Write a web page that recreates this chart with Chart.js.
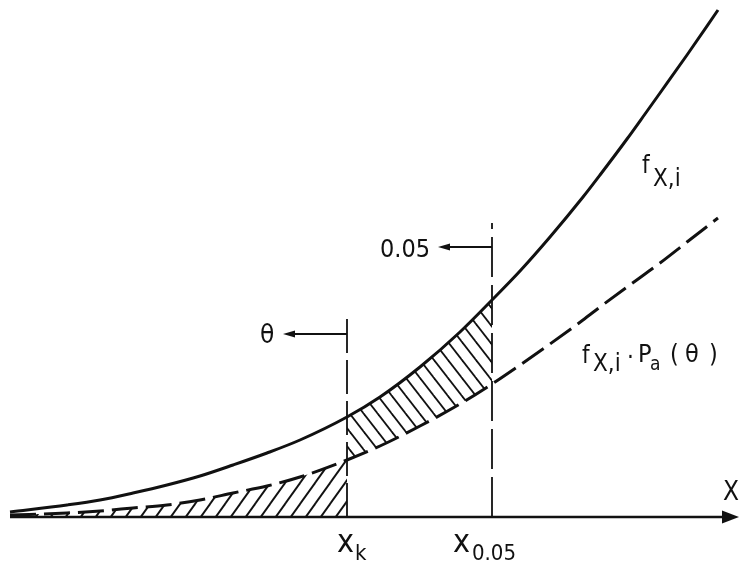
<!DOCTYPE html>
<html><head><meta charset="utf-8">
<script src="https://cdn.jsdelivr.net/npm/chart.js@4"></script>
<style>html,body{margin:0;padding:0;background:#fff}canvas{display:block}</style>
</head><body>
<canvas id="c" width="739" height="563"></canvas>
<script>
// ---- data (arbitrary schematic units) ----
const xs     = [10, 67, 100, 133, 167, 200, 233, 267, 300, 347, 380, 420, 460, 492, 520, 550, 583, 600, 627, 645, 660, 687, 718];
const fXi    = [5, 12, 17, 24, 32, 41, 52, 64, 77, 100, 120, 150, 185, 217, 246, 280, 320, 342, 378, 403, 424, 462, 507];
const fXiPa  = [2, 4, 6, 9, 12, 17, 24, 31, 40, 57, 71, 91, 113, 133, 152, 173, 197, 210, 230, 243, 254, 275, 299];
const xK = 347;          // x_k threshold
const x005 = 492;        // x_0.05 threshold
const xKTop = 205;       // top of x_k marker line
const x005Top = 294;     // top of x_0.05 marker line
const thetaLevel = 183;  // height of the θ arrow
const alphaLevel = 270;  // height of the 0.05 arrow
const thetaTip = 283;
const alphaTip = 438;
const axisStart = 10, axisEnd = 739;

const pts = (ys, lo, hi) => xs.map((x,i)=>({x, y: ys[i]})).filter(p => p.x >= lo && p.x <= hi);

function hatch(w, h, dir, lw){
  const c = document.createElement('canvas'); c.width = w; c.height = h;
  const g = c.getContext('2d'); g.strokeStyle = '#111'; g.lineWidth = lw;
  for (const k of [-2,-1,0,1,2]){
    g.beginPath();
    if (dir > 0){ g.moveTo(-w + k*w, 2*h); g.lineTo(2*w + k*w, -h); }
    else { g.moveTo(-w + k*w, -h); g.lineTo(2*w + k*w, 2*h); }
    g.stroke();
  }
  return document.getElementById('c').getContext('2d').createPattern(c, 'repeat');
}
const patLeft = hatch(15, 21, 1, 1.9);
const patMid  = hatch(14, 18, -1, 1.8);

const INK = '#111';
const FONT = "'DejaVu Sans Condensed', 'DejaVu Sans', sans-serif";

const annot = {
  id: 'annot',
  afterDatasetsDraw(chart){
    const ctx = chart.ctx, X = chart.scales.x, Y = chart.scales.y;
    const px = v => X.getPixelForValue(v), py = v => Y.getPixelForValue(v);
    ctx.save();
    ctx.strokeStyle = INK; ctx.fillStyle = INK; ctx.lineCap = 'butt';
    // x axis with arrow
    ctx.lineWidth = 2.4;
    ctx.beginPath(); ctx.moveTo(px(axisStart), py(0)); ctx.lineTo(px(axisEnd) - 10, py(0)); ctx.stroke();
    ctx.beginPath(); ctx.moveTo(px(axisEnd), py(0)); ctx.lineTo(px(axisEnd) - 17, py(0) - 6.5); ctx.lineTo(px(axisEnd) - 17, py(0) + 6.5); ctx.closePath(); ctx.fill();
    // arrows
    const arrow = (x0, x1, y) => {
      ctx.lineWidth = 1.8;
      ctx.beginPath(); ctx.moveTo(px(x0), py(y)); ctx.lineTo(px(x1) + 6, py(y)); ctx.stroke();
      ctx.beginPath(); ctx.moveTo(px(x1), py(y)); ctx.lineTo(px(x1) + 12, py(y) - 3.5); ctx.lineTo(px(x1) + 12, py(y) + 3.5); ctx.closePath(); ctx.fill();
    };
    arrow(xK, thetaTip, thetaLevel);
    arrow(x005, alphaTip, alphaLevel);
    // texts
    const t = (s, x, y, size) => { ctx.font = size + 'px ' + FONT; ctx.textBaseline = 'alphabetic'; ctx.textAlign = 'left'; ctx.fillText(s, px(x), py(y)); };
    t('0.05', 380, 260, 25);
    t('θ', 260, 174, 26);
    t('f', 642, 344, 24); t('X,i', 653, 331, 24);
    t('f', 582, 154, 24); t('X,i', 593, 146, 24); t('·', 627, 152, 24);
    t('P', 638, 155, 25); t('a', 650, 147, 19);
    t('(', 670, 155, 25); t('θ', 685, 155, 25); t(')', 709, 155, 25);
    t('X', 723, 17, 26);
    t('x', 337, -35, 32); t('k', 355, -43, 22);
    t('x', 453, -35, 32); t('0.05', 472, -43, 22);
    ctx.restore();
  }
};

new Chart(document.getElementById('c'), {
  type: 'line',
  data: { datasets: [
    { label: 'tail', data: pts(fXiPa, 0, xK), borderWidth: 0, fill: 'origin', backgroundColor: patLeft, cubicInterpolationMode: 'monotone' },
    { label: 'lower', data: pts(fXiPa, xK, x005), borderWidth: 0, fill: false, cubicInterpolationMode: 'monotone' },
    { label: 'band', data: pts(fXi, xK, x005), borderWidth: 0, fill: '-1', backgroundColor: patMid, cubicInterpolationMode: 'monotone' },
    { label: 'f_X,i', data: pts(fXi, 0, 999), borderColor: INK, borderWidth: 3, fill: false, cubicInterpolationMode: 'monotone', clip: false },
    { label: 'f_X,i·Pa(θ)', data: pts(fXiPa, 0, 999), borderColor: INK, borderWidth: 3, borderDash: [26, 8], fill: false, cubicInterpolationMode: 'monotone', clip: false },
    { label: 'x_k', data: [{x: xK, y: 0}, {x: xK, y: xKTop}], borderColor: INK, borderWidth: 1.8, borderDash: [34, 7], fill: false, clip: false },
    { label: 'x_0.05', data: [{x: x005, y: 0}, {x: x005, y: x005Top}], borderColor: INK, borderWidth: 1.8, borderDash: [40, 8], fill: false, clip: false }
  ]},
  options: {
    responsive: false, animation: false, events: [],
    layout: { padding: { left: 0, right: 0, top: 0, bottom: 46 } },
    elements: { point: { radius: 0 } },
    plugins: { legend: { display: false }, tooltip: { enabled: false } },
    scales: {
      x: { type: 'linear', min: 0, max: 739, display: false },
      y: { type: 'linear', min: 0, max: 517, display: false }
    }
  },
  plugins: [annot]
});
</script>
</body></html>
